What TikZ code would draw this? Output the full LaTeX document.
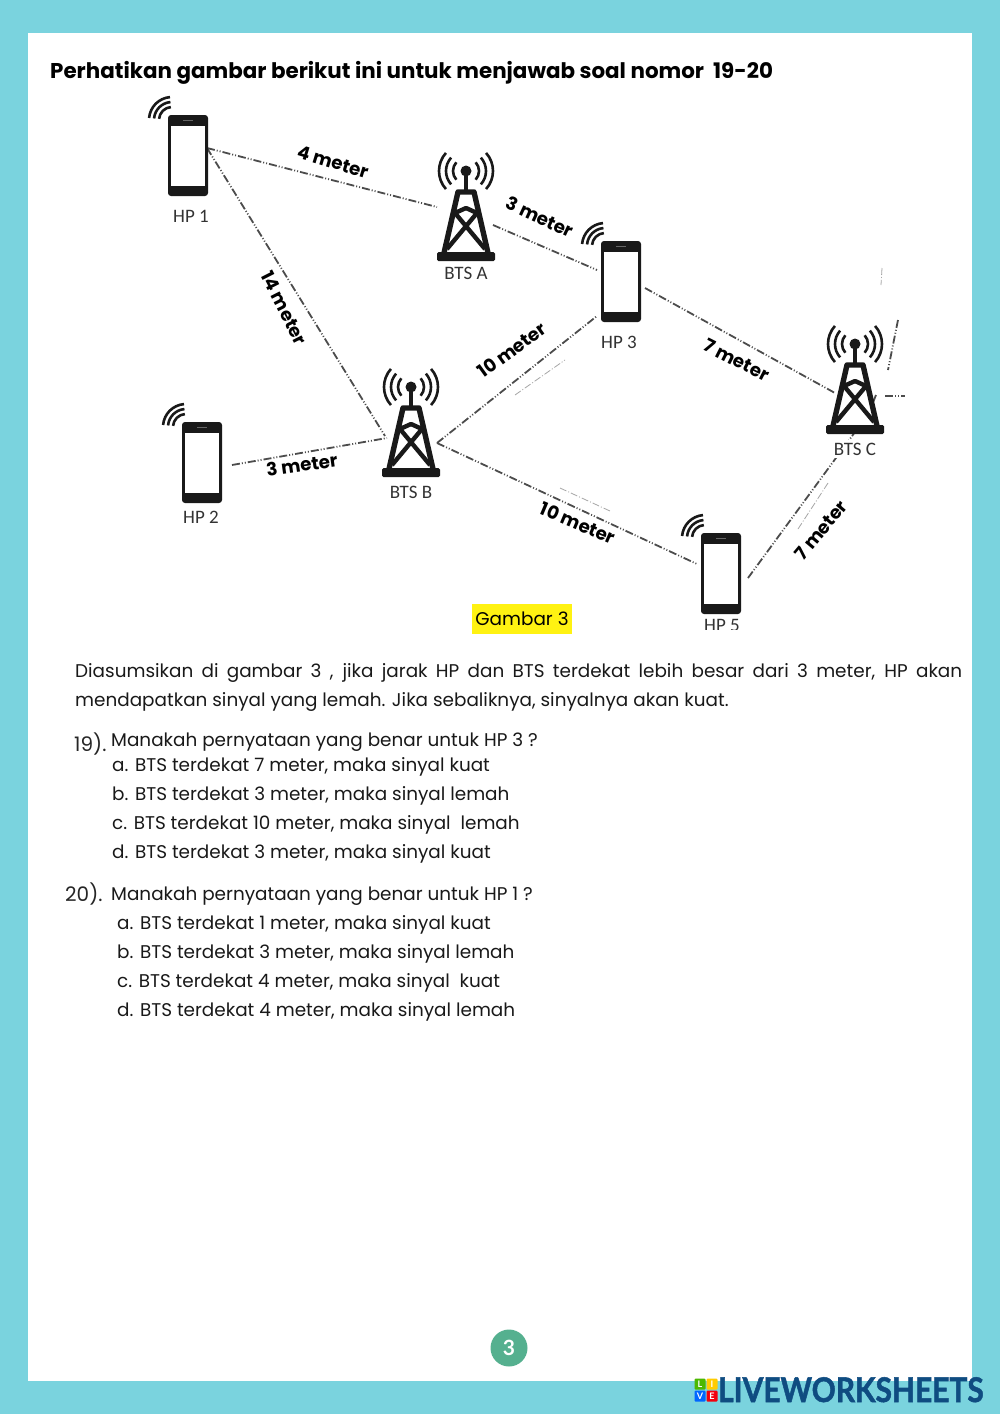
\documentclass[tikz,border=0pt]{standalone}
\usepackage{fontspec}
\setmainfont{Poppins}
\newfontfamily\devfont{Carlito}
\newfontfamily\logofont[BoldFeatures={FakeBold=1.5}]{Lato}
\newfontfamily\pagefont{Lato}
\definecolor{pagebg}{HTML}{7AD3DE}
\definecolor{badge}{HTML}{55B08F}
\definecolor{logoblue}{HTML}{0F4C81}
\definecolor{ylw}{HTML}{FFF212}
\tikzset{
  body/.style={anchor=base west,inner sep=0pt,font=\fontsize{18.4}{22}\selectfont,text=black!90},
  numlab/.style={anchor=base west,inner sep=0pt,font=\fontsize{20}{24}\selectfont,text=black!85},
  dist/.style={inner sep=0pt,font=\fontsize{18.2}{20}\selectfont\bfseries},
  dev/.style={inner sep=0pt,font=\devfont\fontsize{19}{20}\selectfont,text=black!80},
  link/.style={line width=1.8pt,black!70,dash pattern=on 8pt off 2pt on 1pt off 2pt on 1pt off 2pt},
  stray/.style={line width=.8pt,black!35,dash pattern=on 7pt off 2pt on 1pt off 2pt},
  phonebody/.style={draw=none,fill=black!90,rounded corners=3pt,minimum width=40pt,minimum height=81pt,inner sep=0pt},
  screen/.style={fill=white,minimum width=34pt,minimum height=60pt,inner sep=0pt},
  phone/.pic={
    \node[phonebody] (-b) at (20,40.5) {};
    \node[screen] (-s) at (19.5,40.5) {};
    \draw[black!60,line width=.8pt] (15,5.5) -- (25,5.5);
    \foreach \r in {13,18,23}
      \draw[black!90,line width=2.6pt] ([shift={(95:\r pt)}]4,5) arc[start angle=95,end angle=175,radius=\r pt];
  },
  tower/.pic={
    \fill[black!90] (0,0) circle[radius=5.5pt];
    \foreach \r in {13,20,27}{
      \draw[black!90,line width=2.6pt] ([shift={(-42:\r pt)}]0,0) arc[start angle=-42,end angle=42,radius=\r pt];
      \draw[black!90,line width=2.6pt] ([shift={(138:\r pt)}]0,0) arc[start angle=138,end angle=222,radius=\r pt];
    }
    \draw[black!90,line width=4pt] (0,0) -- (0,21);
    \draw[black!90,line width=5.4pt,line join=round] (-22,82) -- (-8,21) -- (8,21) -- (22,82);
    \draw[black!90,line width=4.4pt,line join=round] (-11,42) -- (0,37) -- (11,42);
    \draw[black!90,line width=4.4pt] (-11,42) -- (19,78) (11,42) -- (-19,78);
    \fill[black!90,rounded corners=1.5pt] (-29,81) rectangle (29,90);
  }
}
\begin{document}
\begin{tikzpicture}[x=1pt,y=-1pt]
\useasboundingbox (0,0) rectangle (1000,1414);
\fill[pagebg] (0,0) rectangle (1000,1414);
\fill[white] (28,33) rectangle (972,1381);

\node[anchor=base west,inner sep=0pt,font=\fontsize{21.4}{24}\selectfont\bfseries] (title) at (50,78) {Perhatikan gambar berikut ini untuk menjawab soal nomor\ \ 19-20};

% device anchors
\coordinate (a1) at (207,148); \coordinate (a2) at (437,207);
\coordinate (b2) at (385,436);
\coordinate (c1) at (493,225); \coordinate (c2) at (597,270);
\coordinate (d1) at (645,288); \coordinate (d2) at (835,393);
\coordinate (e1) at (232,465); \coordinate (e2) at (387,438);
\coordinate (f1) at (437,443); \coordinate (f2) at (597,316);
\coordinate (g2) at (697,564);
\coordinate (h1) at (748,578); \coordinate (h2) at (855,432);
\draw[link] (a1) -- (a2);
\draw[link] (a1) -- (b2);
\draw[link] (c1) -- (c2);
\draw[link] (d1) -- (d2);
\draw[link] (e1) -- (e2);
\draw[link] (f1) -- (f2);
\draw[link] (f1) -- (g2);
\draw[link] (h1) -- (h2);

% faint stray fragments
\coordinate (s1) at (882,268); \coordinate (s2) at (881,285);
\coordinate (s3) at (898,320); \coordinate (s4) at (888,370);
\coordinate (s5) at (885,396); \coordinate (s6) at (905,396);
\coordinate (s7) at (876,395); \coordinate (s8) at (872,405);
\coordinate (s9) at (515,395); \coordinate (s10) at (565,360);
\coordinate (s11) at (560,488); \coordinate (s12) at (610,511);
\coordinate (s13) at (798,529); \coordinate (s14) at (828,483);
\draw[stray] (s1) -- (s2);
\draw[link] (s3) -- (s4);
\draw[link] (s5) -- (s6);
\draw[link] (s7) -- (s8);
\draw[stray] (s9) -- (s10);
\draw[stray] (s11) -- (s12);
\draw[stray] (s13) -- (s14);

% devices
\pic (hp1) at (168,115) {phone};
\pic (hp2) at (182,422) {phone};
\pic (hp3) at (601,241) {phone};
\pic (hp5) at (701,533) {phone};
\pic (btsa) at (466,171) {tower};
\pic (btsb) at (411,387) {tower};
\pic (btsc) at (855,344) {tower};

\node[dev] (lhp1) at (191,216) {HP 1};
\node[dev] (lhp2) at (201,517) {HP 2};
\node[dev] (lhp3) at (619,342) {HP 3};
\node[dev] (lbtsa) at (466,273) {BTS A};
\node[dev] (lbtsb) at (411,492) {BTS B};
\node[dev,fill=white,inner xsep=4pt,inner ysep=3pt] (lbtsc) at (855,449) {BTS C};
\begin{scope}
\clip (690,614) rectangle (760,629);
\node[dev] (lhp5) at (722,625) {HP 5};
\end{scope}

% distances
\node[dist,rotate=-17] (d41) at (333,162) {4 meter};
\node[dist,rotate=-25] (d31) at (540,217) {3 meter};
\node[dist,rotate=-63] (d14) at (284,308) {14 meter};
\node[dist,rotate=36] (d101) at (512,350) {10 meter};
\node[dist,rotate=-27] (d71) at (737,360) {7 meter};
\node[dist,rotate=8] (d32) at (302,465) {3 meter};
\node[dist,rotate=-23] (d102) at (578,523) {10 meter};
\node[dist,rotate=50] (d72) at (821,530) {7 meter};

\node[fill=ylw,minimum width=100pt,minimum height=30pt,inner sep=0pt,font=\fontsize{18.4}{22}\selectfont] (cap) at (522,619) {Gambar 3};

\node[anchor=north west,inner sep=0pt,text width=887pt,align=justify,font=\fontsize{18.4}{29}\selectfont,text=black!90] (para) at (75,663) {Diasumsikan di gambar 3 , jika jarak HP dan BTS terdekat lebih besar dari 3 meter, HP akan\linebreak mendapatkan sinyal yang lemah. Jika sebaliknya, sinyalnya akan kuat.};

\node[numlab] (n19) at (74,751) {19).};
\node[body] (q19) at (111,746) {Manakah pernyataan yang benar untuk HP 3 ?};
\node[body] (q19a) at (112,771) {a. BTS terdekat 7 meter, maka sinyal kuat};
\node[body] (q19b) at (112,800) {b. BTS terdekat 3 meter, maka sinyal lemah};
\node[body] (q19c) at (112,829) {c. BTS terdekat 10 meter, maka sinyal\ \ lemah};
\node[body] (q19d) at (112,858) {d. BTS terdekat 3 meter, maka sinyal kuat};

\node[numlab] (n20) at (65,901) {20).};
\node[body] (q20) at (111,900) {Manakah pernyataan yang benar untuk HP 1 ?};
\node[body] (q20a) at (117,929) {a. BTS terdekat 1 meter, maka sinyal kuat};
\node[body] (q20b) at (117,958) {b. BTS terdekat 3 meter, maka sinyal lemah};
\node[body] (q20c) at (117,987) {c. BTS terdekat 4 meter, maka sinyal\ \ kuat};
\node[body] (q20d) at (117,1016) {d. BTS terdekat 4 meter, maka sinyal lemah};

\node[circle,fill=badge,minimum size=37pt,inner sep=0pt,text=white,font=\pagefont\fontsize{21}{24}\selectfont\bfseries] (pg) at (509,1348) {3};

% logo
\tikzset{logosq/.style={minimum size=11pt,inner sep=0pt,rounded corners=1pt,text=white,font=\pagefont\fontsize{9}{9}\selectfont\bfseries}}
\node[logosq,fill=green!60!black!70!yellow] (lL) at (700,1384) {L};
\node[logosq,fill=orange!40!yellow] (lI) at (712,1384) {I};
\node[logosq,fill=blue!60!cyan] (lV) at (700,1396) {V};
\node[logosq,fill=red!80!purple] (lE) at (712,1396) {E};
\node[anchor=base west,inner sep=0pt,text=logoblue,xscale=.88,font=\logofont\fontsize{34}{34}\selectfont\bfseries] (logo) at (718,1402) {LIVEWORKSHEETS};
\end{tikzpicture}
\end{document}
